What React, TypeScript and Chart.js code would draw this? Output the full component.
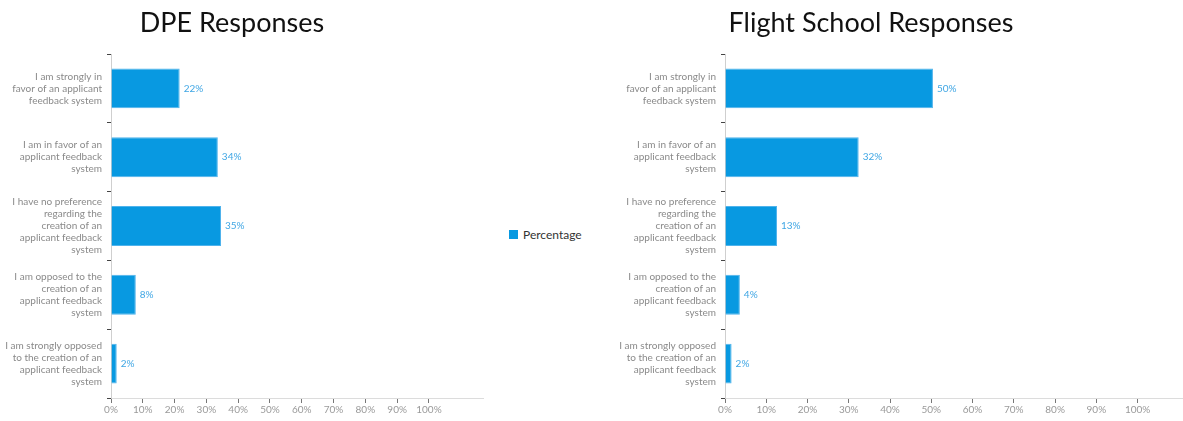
import React, { useEffect, useRef } from 'react';
import { Chart, registerables } from 'chart.js';

Chart.register(...registerables);

const FONT = 'Lato, "Open Sans", "DejaVu Sans", sans-serif';

const categories: string[][] = [
  ['I am strongly in', 'favor of an applicant', 'feedback system'],
  ['I am in favor of an', 'applicant feedback', 'system'],
  ['I have no preference', 'regarding the', 'creation of an', 'applicant feedback', 'system'],
  ['I am opposed to the', 'creation of an', 'applicant feedback', 'system'],
  ['I am strongly opposed', 'to the creation of an', 'applicant feedback', 'system'],
];

const dpeValues = [21.6, 33.6, 34.6, 7.8, 1.8];
const schoolValues = [50.4, 32.4, 12.6, 3.6, 1.6];

const xTickValues = [0, 10, 20, 30, 40, 50, 60, 70, 80, 90, 100];

const seriesName = 'Percentage';
const dpeTitle = 'DPE Responses';
const schoolTitle = 'Flight School Responses';

const BAR_COLOR = '#0899e1';
const BAR_BORDER = '#4fb3ec';
const LABEL_COLOR = '#3fa6e4';

const valueLabelPlugin = {
  id: 'valueLabels',
  afterDatasetsDraw(chart: any) {
    const ctx = chart.ctx;
    const meta = chart.getDatasetMeta(0);
    const data = chart.data.datasets[0].data as number[];
    ctx.save();
    ctx.font = `10px ${FONT}`;
    ctx.fillStyle = LABEL_COLOR;
    ctx.textAlign = 'left';
    ctx.textBaseline = 'middle';
    meta.data.forEach((bar: any, i: number) => {
      ctx.fillText(Math.round(data[i]) + '%', bar.x + 4, bar.y);
    });
    ctx.restore();
  },
};

type PanelProps = {
  values: number[];
  left: number;
  width: number;
  yAxisWidth: number;
  rightPad: number;
  xMax: number;
};

function BarPanel({ values, left, width, yAxisWidth, rightPad, xMax }: PanelProps) {
  const ref = useRef<HTMLCanvasElement | null>(null);
  useEffect(() => {
    if (!ref.current) return;
    const chart = new Chart(ref.current, {
      type: 'bar',
      data: {
        labels: categories,
        datasets: [
          {
            label: seriesName,
            data: values,
            backgroundColor: BAR_COLOR,
            borderColor: BAR_BORDER,
            borderWidth: 1,
            categoryPercentage: 1,
            barPercentage: 0.58,
          },
        ],
      },
      options: {
        indexAxis: 'y',
        responsive: false,
        animation: false,
        layout: { padding: { top: 54, right: rightPad, left: 0, bottom: 0 } },
        plugins: {
          legend: { display: false },
          tooltip: { enabled: false },
          title: { display: false },
        },
        scales: {
          x: {
            type: 'linear',
            min: 0,
            max: xMax,
            afterBuildTicks: (s: any) => {
              s.ticks = xTickValues.map((v) => ({ value: v }));
            },
            afterFit: (s: any) => {
              s.height = 19;
            },
            ticks: {
              callback: (v: any) => v + '%',
              font: { family: FONT, size: 10 },
              color: '#9a9a9a',
              padding: 1,
              maxRotation: 0,
              autoSkip: false,
            },
            grid: { drawOnChartArea: false, drawTicks: true, tickLength: 5, color: '#777' },
            border: { color: '#dcdcdc' },
          },
          y: {
            type: 'category',
            offset: true,
            afterFit: (s: any) => {
              s.width = yAxisWidth;
            },
            grid: { offset: true, drawOnChartArea: false, drawTicks: true, tickLength: 4, color: '#444' },
            border: { color: '#cfcfcf' },
            ticks: {
              font: { family: FONT, size: 10 },
              color: '#8a8a8a',
              padding: 5,
              autoSkip: false,
            },
          },
        },
      } as any,
      plugins: [valueLabelPlugin],
    });
    return () => chart.destroy();
  }, [values, yAxisWidth, rightPad, xMax]);
  return (
    <canvas
      ref={ref}
      width={width}
      height={421}
      style={{ position: 'absolute', left, top: 0, width, height: 421 }}
    />
  );
}

const titleStyle: React.CSSProperties = {
  position: 'absolute',
  top: 6,
  width: 400,
  textAlign: 'center',
  fontFamily: FONT,
  fontSize: 27,
  lineHeight: '32px',
  color: '#111',
};

export default function App() {
  return (
    <div
      style={{
        position: 'absolute',
        left: 0,
        top: 0,
        width: 1183,
        height: 421,
        background: '#fff',
        overflow: 'hidden',
      }}
    >
      <BarPanel values={dpeValues} left={0} width={490} yAxisWidth={111} rightPad={7} xMax={117} />
      <BarPanel values={schoolValues} left={600} width={583} yAxisWidth={125} rightPad={0} xMax={111} />
      <div style={{ ...titleStyle, left: 232 - 200 }}>{dpeTitle}</div>
      <div style={{ ...titleStyle, left: 871 - 200 }}>{schoolTitle}</div>
      <div
        style={{
          position: 'absolute',
          left: 509,
          top: 226,
          display: 'flex',
          alignItems: 'center',
          fontFamily: FONT,
          fontSize: 12,
          color: '#333',
          height: 17,
        }}
      >
        <span style={{ display: 'inline-block', width: 9, height: 9, background: BAR_COLOR, marginRight: 5 }} />
        <span>{seriesName}</span>
      </div>
    </div>
  );
}
